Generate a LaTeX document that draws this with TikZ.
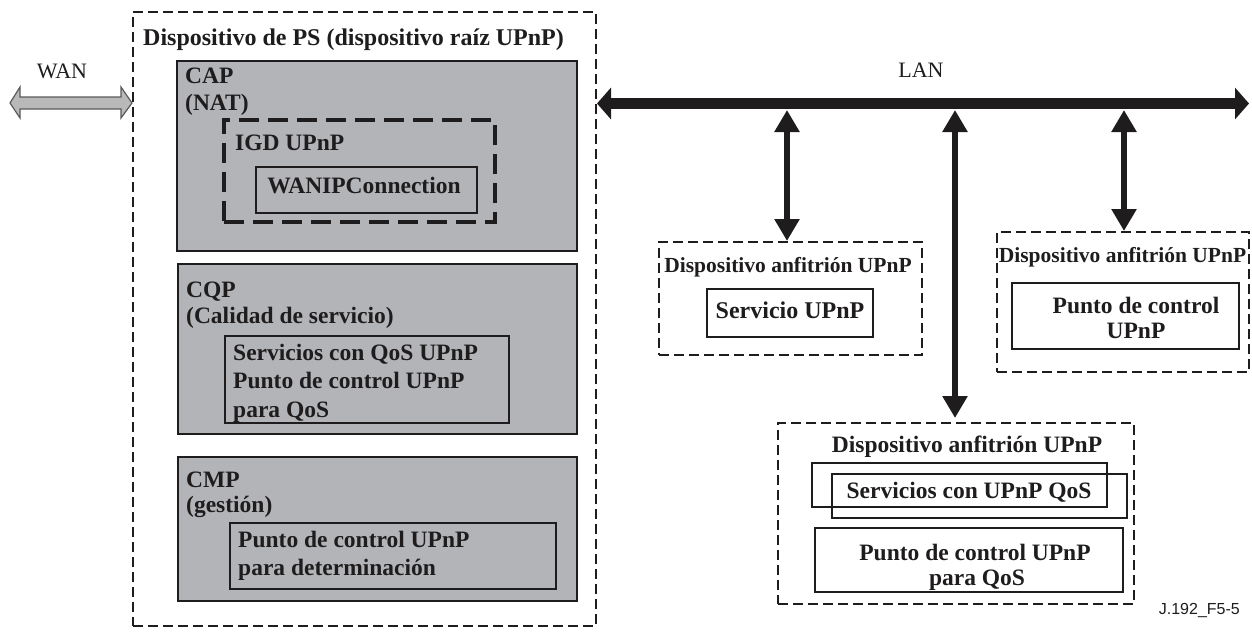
\documentclass[tikz,border=0pt]{standalone}
\usepackage{fontspec}
\setmainfont{Liberation Serif}
\setsansfont{Liberation Sans}
\usetikzlibrary{arrows.meta,fit}
\definecolor{boxgray}{RGB}{179,180,184}
\definecolor{wangray}{RGB}{185,185,185}
\definecolor{wanedge}{RGB}{90,90,90}
\definecolor{ink}{RGB}{30,28,28}
\newcommand\fsz[1]{\fontsize{#1}{#1}\selectfont}
\tikzset{
  psbox/.style={draw=ink, line width=2pt, dash pattern=on 10pt off 5pt, inner sep=0pt},
  hostbox/.style={draw=ink, line width=2pt, dash pattern=on 10pt off 5pt, inner sep=0pt},
  graybox/.style={draw=ink, fill=boxgray, line width=1.6pt, inner sep=0pt},
  plainbox/.style={draw=ink, line width=1.5pt, inner sep=0pt},
  igdbox/.style={draw=ink, line width=4.5pt, dash pattern=on 20pt off 9pt, inner sep=0pt},
  lbl/.style={inner sep=0pt, text=ink, font=\bfseries\fsz{23.5}},
  smalllbl/.style={inner sep=0pt, text=ink, font=\bfseries\fsz{21.5}},
  netlbl/.style={inner sep=0pt, text=ink, font=\fsz{22}},
  vArrow/.style={draw=ink, line width=6pt, {Triangle[length=22pt,width=24pt]}-{Triangle[length=22pt,width=24pt]}},
  busArrow/.style={draw=ink, line width=11pt, {Triangle[length=14pt,width=31pt]}-{Triangle[length=14pt,width=31pt]}},
}
\begin{document}
\begin{tikzpicture}[x=1pt,y=-1pt]
\useasboundingbox (0,0) rectangle (1252,633);

% WAN
\node[netlbl, anchor=base] (wan) at (62,78) {WAN};
\draw[fill=wangray, draw=wanedge, line width=1.2pt, line join=miter]
  (10,103) -- (20,87) -- (20,97) -- (121,97) -- (121,87) -- (132,103)
  -- (121,118) -- (121,109) -- (20,109) -- (20,118) -- cycle;

% PS device
\node[psbox, fit={(133,12) (596,626)}] (ps) {};
\node[lbl, font=\bfseries\fsz{24}, anchor=base west] (pstitle) at (143,45) {Dispositivo de PS (dispositivo raíz UPnP)};

% CAP
\node[graybox, fit={(177,61) (577,251)}] (cap) {};
\node[lbl, anchor=base west] (capt) at (185,83) {CAP};
\node[lbl, anchor=base west] (capn) at (185,110) {(NAT)};
\node[igdbox, fit={(224,120) (495,222)}] (igd) {};
\node[lbl, anchor=base west] (igdt) at (235,150) {IGD UPnP};
\node[plainbox, fit={(256,167) (477,213)}] (wanip) {};
\node[lbl, anchor=base] (wanipt) at (364,193) {WANIPConnection};

% CQP
\node[graybox, fit={(178,264) (577,434)}] (cqp) {};
\node[lbl, anchor=base west] (cqpt) at (186,297) {CQP};
\node[lbl, anchor=base west] (cqpn) at (186,323) {(Calidad de servicio)};
\node[plainbox, fit={(225,336) (509,423)}] (cqpin) {};
\node[lbl, anchor=base west] (cqpl1) at (233,360) {Servicios con QoS UPnP};
\node[lbl, anchor=base west] (cqpl2) at (233,388) {Punto de control UPnP};
\node[lbl, anchor=base west] (cqpl3) at (233,417) {para QoS};

% CMP
\node[graybox, fit={(178,457) (577,601)}] (cmp) {};
\node[lbl, anchor=base west] (cmpt) at (186,487) {CMP};
\node[lbl, anchor=base west] (cmpn) at (186,512) {(gestión)};
\node[plainbox, fit={(230,523) (556,589)}] (cmpin) {};
\node[lbl, anchor=base west] (cmpl1) at (238,547) {Punto de control UPnP};
\node[lbl, anchor=base west] (cmpl2) at (238,575) {para determinación};

% LAN
\node[netlbl, anchor=base] (lan) at (921,77) {LAN};
\coordinate (lanL) at (597,103.5);
\coordinate (lanR) at (1249,103.5);
\draw[busArrow] (lanL) -- (lanR);

% Host 1
\node[hostbox, fit={(659,242) (922,355)}] (host1) {};
\node[smalllbl, anchor=base] (host1t) at (788,272) {Dispositivo anfitrión UPnP};
\node[plainbox, fit={(707,289) (873,337)}] (svc) {};
\node[lbl, font=\bfseries\fsz{24}, anchor=base] (svct) at (790,318) {Servicio UPnP};

% Host 2
\node[hostbox, fit={(997,232) (1249,372)}] (host2) {};
\node[smalllbl, anchor=base] (host2t) at (1122.5,262) {Dispositivo anfitrión UPnP};
\node[plainbox, fit={(1012,283) (1239,349)}] (pc2) {};
\node[lbl, anchor=base] (pc2l1) at (1136,313) {Punto de control};
\node[lbl, anchor=base] (pc2l2) at (1136,338) {UPnP};

% Host 3
\node[hostbox, fit={(778,423) (1134,604)}] (host3) {};
\node[lbl, anchor=base] (host3t) at (967,452) {Dispositivo anfitrión UPnP};
\node[plainbox, fit={(812,463) (1107,507)}] (s3a) {};
\node[plainbox, fit={(832,474) (1127,518)}] (s3b) {};
\node[lbl, anchor=base] (s3t) at (969,498) {Servicios con UPnP QoS};
\node[plainbox, fit={(815,528) (1123,592)}] (pc3) {};
\node[lbl, anchor=base] (pc3l1) at (975,560) {Punto de control UPnP};
\node[lbl, anchor=base] (pc3l2) at (977,585) {para QoS};

% vertical connectors
\coordinate (t1) at (787,110);
\coordinate (t2) at (955,110);
\coordinate (t3) at (1124,110);
\draw[vArrow] (t1) -- (t1 |- host1.north);
\draw[vArrow, shorten >=4pt] (t2) -- (t2 |- host3.north);
\draw[vArrow] (t3) -- (t3 |- host2.north);

% figure id
\node[inner sep=0pt, font=\sffamily\fsz{16}, text=ink, anchor=base east] (figid) at (1240,614) {J.192\_F5-5};
\end{tikzpicture}
\end{document}
